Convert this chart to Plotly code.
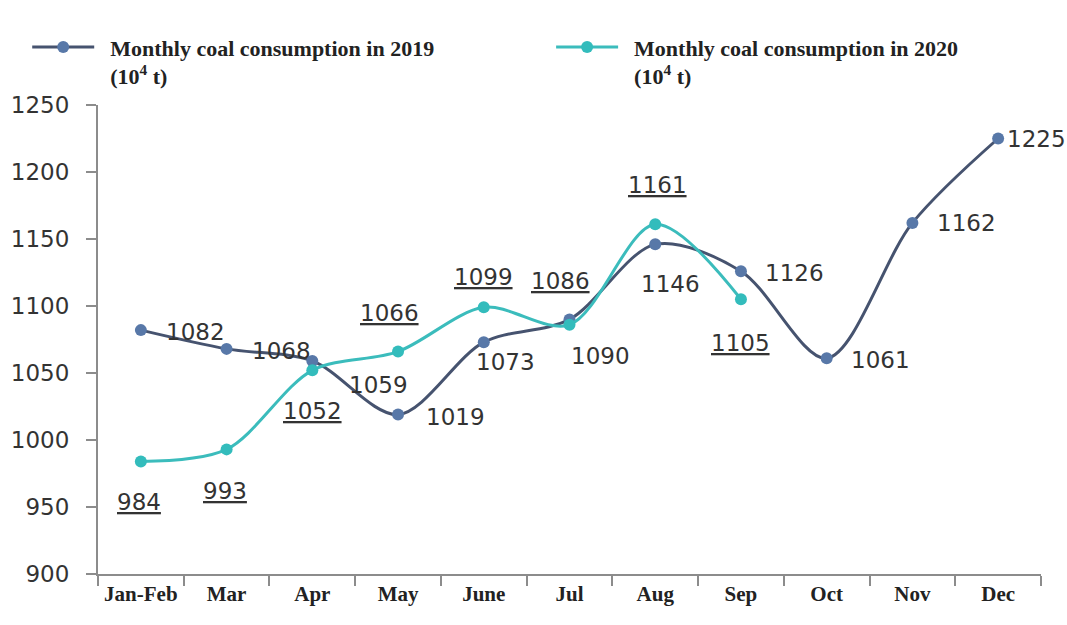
import plotly.graph_objects as go

# Months on the category axis
months = ["Jan-Feb", "Mar", "Apr", "May", "June", "Jul", "Aug", "Sep", "Oct", "Nov", "Dec"]

# Monthly coal consumption, 10^4 t
coal_2019 = [1082, 1068, 1059, 1019, 1073, 1090, 1146, 1126, 1061, 1162, 1225]
coal_2020 = [984, 993, 1052, 1066, 1099, 1086, 1161, 1105]

# Y axis ticks
y_ticks = [900, 950, 1000, 1050, 1100, 1150, 1200, 1250]

# Legend names (leading non-breaking spaces widen the gap after the symbol)
PAD = "&nbsp;&nbsp;"
name_2019 = PAD + "Monthly coal consumption in 2019<br>" + PAD + "(10<sup>4</sup> t)"
name_2020 = PAD + "Monthly coal consumption in 2020<br>" + PAD + "(10<sup>4</sup> t)"

# Pixel offsets of each value label from its point (x, y; +y is up)
offsets_2019 = [(55, -2), (55, -2), (66, -24), (57, -2), (22, -20), (31, -37),
                (15, -40), (54, -2), (54, -2), (54, 0), (38, 0)]
offsets_2020 = [(-2, -41), (-2, -42), (0, -41), (-9, 39), (0, 30), (-9, 44),
                (2, 39), (0, -44)]

LINE_2019 = "#46536f"
MARK_2019 = "#5878a8"
LINE_2020 = "#3bbcbc"
MARK_2020 = "#33bcbc"
LABEL_FONT = dict(family="DejaVu Sans", size=23, color="#333333")
LEGEND_FONT = dict(family="Liberation Serif", size=22, color="#222222", weight="bold")

fig = go.Figure()

fig.add_trace(go.Scatter(
    x=months, y=coal_2019, name=name_2019, mode="lines+markers",
    line=dict(color=LINE_2019, width=3, shape="spline", smoothing=0.9),
    marker=dict(color=MARK_2019, size=12),
    cliponaxis=False, legend="legend",
))
fig.add_trace(go.Scatter(
    x=months[:len(coal_2020)], y=coal_2020, name=name_2020, mode="lines+markers",
    line=dict(color=LINE_2020, width=3, shape="spline", smoothing=0.9),
    marker=dict(color=MARK_2020, size=12),
    cliponaxis=False, legend="legend2",
))

annotations = []
for m, v, (dx, dy) in zip(months, coal_2019, offsets_2019):
    annotations.append(dict(x=m, y=v, text=str(v), showarrow=False,
                            xshift=dx, yshift=dy, font=LABEL_FONT))
for m, v, (dx, dy) in zip(months, coal_2020, offsets_2020):
    annotations.append(dict(x=m, y=v, text="<u>%d</u>" % v, showarrow=False,
                            xshift=dx, yshift=dy, font=LABEL_FONT))

legend_common = dict(
    orientation="h", xref="container", yref="container",
    y=0.958, xanchor="left", yanchor="top",
    valign="top", itemwidth=62, font=LEGEND_FONT,
    bgcolor="rgba(0,0,0,0)",
)

fig.update_layout(
    width=1067, height=625,
    margin=dict(l=98, r=26, t=105, b=51, autoexpand=False),
    paper_bgcolor="white", plot_bgcolor="white",
    showlegend=True,
    legend=dict(x=0.0255, **legend_common),
    legend2=dict(x=0.5165, **legend_common),
    annotations=annotations,
    xaxis=dict(
        type="category", range=[-0.5, len(months) - 0.5],
        categoryorder="array", categoryarray=months,
        showline=True, linecolor="#8c8c8c", linewidth=2,
        ticks="outside", tickson="boundaries", ticklen=10, tickcolor="#8c8c8c", tickwidth=1.5,
        showgrid=False, zeroline=False,
        tickfont=dict(family="Liberation Serif", size=21, color="#222222", weight="bold"),
    ),
    yaxis=dict(
        range=[900, 1250], tickvals=y_ticks,
        showline=True, linecolor="#8c8c8c", linewidth=2,
        ticks="outside", ticklen=10, tickcolor="#8c8c8c", tickwidth=1.5,
        showgrid=False, zeroline=False, ticklabelstandoff=12,
        tickfont=dict(family="DejaVu Sans", size=23, color="#333333"),
    ),
)

fig.write_html("out.html")
